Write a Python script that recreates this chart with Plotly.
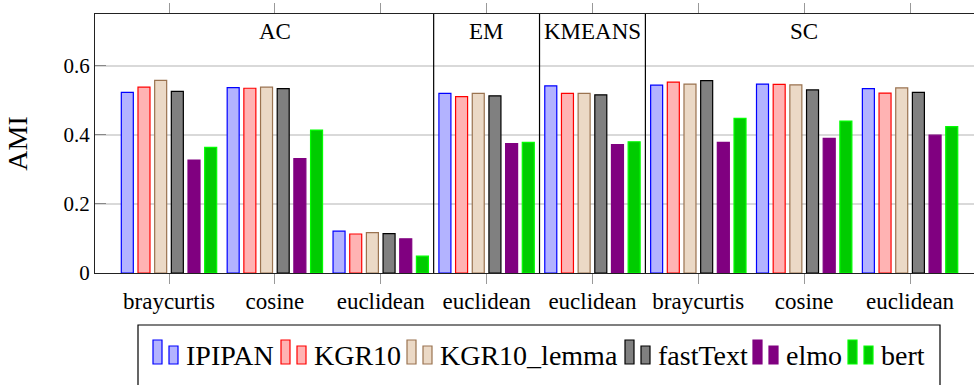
import plotly.graph_objects as go

# ---------------- data ----------------
methods = ["AC", "EM", "KMEANS", "SC"]
method_span = [3, 1, 1, 3]           # number of distance categories per method
distances = ["braycurtis", "cosine", "euclidean", "euclidean",
             "euclidean", "braycurtis", "cosine", "euclidean"]

ipipan = [0.523, 0.537, 0.121, 0.520, 0.542, 0.544, 0.547, 0.534]
kgr10 = [0.538, 0.535, 0.113, 0.511, 0.520, 0.553, 0.546, 0.521]
kgr10_lemma = [0.558, 0.538, 0.117, 0.520, 0.520, 0.547, 0.545, 0.536]
fasttext = [0.526, 0.534, 0.114, 0.513, 0.516, 0.557, 0.530, 0.523]
elmo = [0.327, 0.331, 0.099, 0.375, 0.372, 0.378, 0.390, 0.399]
bert = [0.364, 0.414, 0.049, 0.378, 0.380, 0.448, 0.440, 0.424]

series_names = ["IPIPAN", "KGR10", "KGR10_lemma", "fastText", "elmo", "bert"]
series_values = [ipipan, kgr10, kgr10_lemma, fasttext, elmo, bert]
y_ticks = [0, 0.2, 0.4, 0.6]
y_tick_labels = ["0", "0.2", "0.4", "0.6"]

# ---------------- styles ----------------
fills = ["#b3b3ff", "#ffb3b3", "#ebd9c6", "#808080", "#800080", "#00cc00"]
edges = ["#0000ff", "#ff0000", "#9a7350", "#000000", "#800080", "#00ff00"]
legend_text = ["IPIPAN", "KGR10", "KGR10_lemma", "fastText", "elmo", "bert"]
SERIF = "Liberation Serif, Tinos, Times New Roman, DejaVu Serif, serif"

W, H = 974, 385
ML, MR, MT, MB = 95, 0, 14, 112
PW, PH = W - ML - MR, H - MT - MB

def px_x(p):
    return (p - ML) / PW

def px_y(p):
    return (H - MB - p) / PH

x_pos = list(range(len(distances)))

fig = go.Figure()
for name, vals, fc, ec in zip(series_names, series_values, fills, edges):
    fig.add_trace(go.Bar(
        x=x_pos, y=vals, name=name,
        marker=dict(color=fc, line=dict(color=ec, width=1.2)),
        showlegend=False,
    ))

shapes = []
annotations = []

# method separators & labels
start = 0
for i, (m, span) in enumerate(zip(methods, method_span)):
    center = start + (span - 1) / 2
    annotations.append(dict(x=center, y=0.70, xref="x", yref="y", text=m,
                            showarrow=False, font=dict(family=SERIF, size=23, color="black"),
                            xanchor="center", yanchor="middle"))
    if i > 0:
        shapes.append(dict(type="line", xref="x", yref="y", x0=start - 0.5, x1=start - 0.5,
                           y0=0, y1=0.75, line=dict(color="black", width=1.2)))
    start += span

# custom legend
leg_left, leg_right, leg_top = 138, 940, 325
shapes.append(dict(type="rect", xref="paper", yref="paper",
                   x0=px_x(leg_left), x1=px_x(leg_right), y0=px_y(leg_top), y1=px_y(H + 20),
                   line=dict(color="black", width=1.2), fillcolor="rgba(0,0,0,0)"))
leg_x = [153, 281, 407, 625, 753, 848]
for lx, txt, fc, ec in zip(leg_x, legend_text, fills, edges):
    shapes.append(dict(type="rect", xref="paper", yref="paper",
                       x0=px_x(lx), x1=px_x(lx + 9), y0=px_y(364), y1=px_y(340),
                       fillcolor=fc, line=dict(color=ec, width=1.2)))
    shapes.append(dict(type="rect", xref="paper", yref="paper",
                       x0=px_x(lx + 16), x1=px_x(lx + 25), y0=px_y(364), y1=px_y(346),
                       fillcolor=fc, line=dict(color=ec, width=1.2)))
    annotations.append(dict(x=px_x(lx + 31), y=px_y(355), xref="paper", yref="paper",
                            text=txt, showarrow=False, xanchor="left", yanchor="middle",
                            font=dict(family=SERIF, size=28, color="black")))

fig.update_layout(
    width=W, height=H,
    margin=dict(l=ML, r=MR, t=MT, b=MB, autoexpand=False),
    paper_bgcolor="white", plot_bgcolor="white",
    barmode="group", bargap=0.055, bargroupgap=0.28,
    shapes=shapes, annotations=annotations,
    showlegend=False,
    font=dict(family=SERIF, color="black"),
)
fig.update_xaxes(
    range=[-0.699, 7.604], tickmode="array", tickvals=x_pos, ticktext=distances,
    showline=True, linecolor="#222", linewidth=1.2, mirror="ticks",
    ticks="outside", ticklen=10, tickcolor="#999", tickwidth=1.2,
    showgrid=False, zeroline=False, automargin=False,
    tickfont=dict(family=SERIF, size=23, color="black"),
    ticklabelstandoff=-3,
)
fig.update_yaxes(
    range=[0, 0.75], tickmode="array", tickvals=y_ticks, ticktext=y_tick_labels,
    showline=True, linecolor="#222", linewidth=1.2, mirror=False,
    ticks="inside", ticklen=11, tickcolor="#888", tickwidth=1.2,
    showgrid=True, gridcolor="#d9d9d9", gridwidth=1.5, zeroline=False, automargin=False,
    tickfont=dict(family=SERIF, size=21, color="black"),
    title=dict(text="AMI", font=dict(family=SERIF, size=28, color="black"), standoff=27),
)

fig.write_html("out.html", config={"displayModeBar": False},
               post_script="document.body.style.margin='0';document.body.style.padding='0';")
